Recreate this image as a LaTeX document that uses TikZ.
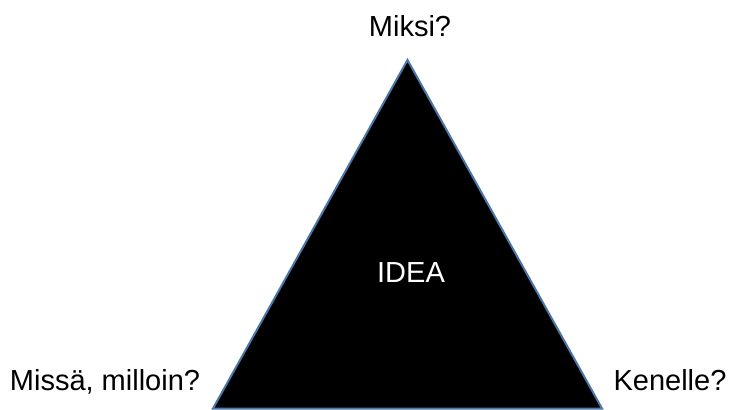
\documentclass[tikz,border=0pt]{standalone}
\usepackage{fontspec}
\setmainfont{Liberation Sans}
\definecolor{edgeblue}{HTML}{4A76A8}
\begin{document}
\begin{tikzpicture}[x=1pt,y=-1pt,
  lbl/.style={font=\fontsize{29}{32}\selectfont, inner sep=0pt, anchor=base}]
\useasboundingbox[fill=white] (0,0) rectangle (729,410);
\coordinate (apex) at (407.5,60);
\coordinate (bl) at (213,408.5);
\coordinate (br) at (602,408.5);
\filldraw[fill=black, draw=edgeblue, line width=2pt, line join=miter] (apex) -- (br) -- (bl) -- cycle;
\node[lbl] (top) at (410,36) {Miksi?};
\node[lbl, text=white] (idea) at (411,282) {IDEA};
\node[lbl] (left) at (105,390) {Missä, milloin?};
\node[lbl] (right) at (670,390) {Kenelle?};
\end{tikzpicture}
\end{document}
